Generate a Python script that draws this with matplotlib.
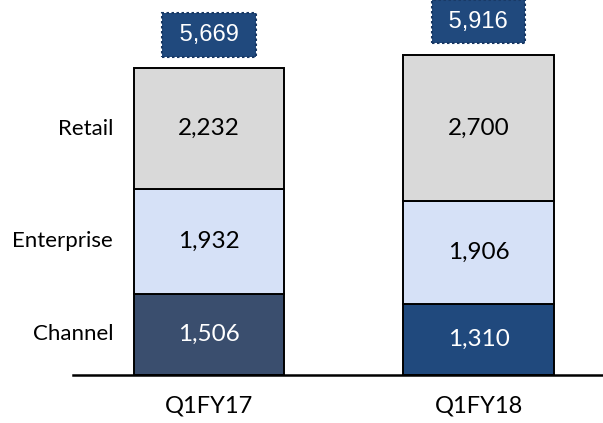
import matplotlib
matplotlib.use("Agg")
import matplotlib.pyplot as plt
import numpy as np

periods = ["Q1FY17", "Q1FY18"]
segments = ["Channel", "Enterprise", "Retail"]
channel = [1506, 1310]
enterprise = [1932, 1906]
retail = [2232, 2700]
totals = [5669, 5916]

channel_colors = ["#3A4E6E", "#20497D"]
enterprise_color = "#D6E1F7"
retail_color = "#D9D9D9"
box_color = "#20497D"

fig = plt.figure(figsize=(6.03, 4.23), dpi=100)
W, H = 603, 423
ax = fig.add_axes([73 / W, (H - 375) / H, (603 - 73) / W, 375 / H])

x = np.arange(len(periods))
width = 0.557
ax.set_xlim(-0.505, 1.462)
ax.set_ylim(0, 6930)

series = [channel, enterprise, retail]
colors = [channel_colors, [enterprise_color] * 2, [retail_color] * 2]
text_colors = ["white", "black", "black"]
bottom = np.zeros(len(periods))
for s, vals, cols, tc in zip(segments, series, colors, text_colors):
    vals = np.array(vals, dtype=float)
    ax.bar(x, vals, width, bottom=bottom, color=cols, edgecolor="black",
           linewidth=1.4, zorder=2)
    for i, v in enumerate(vals):
        ax.text(x[i], bottom[i] + v / 2, f"{int(v):,}", ha="center", va="center",
                fontsize=17.5, color=tc, family=["Lato", "DejaVu Sans"], zorder=3)
    ax.annotate(s, xy=(x[0] - width / 2, bottom[0] + vals[0] / 2),
                xytext=(-15, 0), textcoords="offset points", ha="right",
                va="center", fontsize=16, family=["Lato", "DejaVu Sans"],
                annotation_clip=False)
    bottom += vals

for i, t in enumerate(totals):
    ax.annotate(f" {t:,} ", xy=(x[i], t), xytext=(0, 24), textcoords="offset points",
                ha="center", va="center", fontsize=17, color="white",
                family=["Liberation Sans", "DejaVu Sans"],
                bbox=dict(boxstyle="square,pad=0.45", facecolor=box_color,
                          edgecolor="#1A3A66", linestyle=(0, (1.2, 1.2)),
                          linewidth=1.5),
                annotation_clip=False)

ax.set_xticks(x)
ax.set_xticklabels(periods, fontsize=17, family=["Lato", "DejaVu Sans"])
ax.tick_params(axis="x", length=0, pad=15)
ax.set_yticks([])
for sp in ["top", "right", "left"]:
    ax.spines[sp].set_visible(False)
ax.spines["bottom"].set_linewidth(1.8)
ax.spines["bottom"].set_zorder(4)

fig.savefig("out.png", dpi=100)
